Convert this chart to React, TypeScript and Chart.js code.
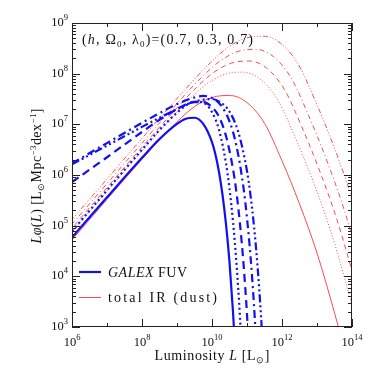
import React, { useEffect, useRef } from 'react';
import { Chart, registerables } from 'chart.js';
Chart.register(...registerables);

// Axis ticks (log10 exponents)
const xMajorExps = [6, 8, 10, 12, 14];
const xMinorExps = [7, 9, 11, 13];
const yMajorExps = [3, 4, 5, 6, 7, 8, 9];

// GALEX FUV luminosity functions (log10 L, log10 L phi(L))
const fuvZ00X = [6, 7, 8, 8.5, 9, 9.25, 9.5, 9.75, 10, 10.1, 10.2, 10.3, 10.4, 10.5, 10.6, 10.7];
const fuvZ00Y = [4.77, 5.56, 6.34, 6.71, 7.01, 7.11, 7.13, 7.01, 6.65, 6.40, 6.06, 5.61, 5.03, 4.28, 3.30, 2.06];
const fuvZ03X = [6, 7, 8, 8.5, 9, 9.25, 9.5, 9.75, 10, 10.2, 10.4, 10.5, 10.6, 10.7, 10.8, 10.9];
const fuvZ03Y = [4.89, 5.70, 6.50, 6.89, 7.23, 7.37, 7.45, 7.43, 7.24, 6.89, 6.23, 5.73, 5.08, 4.25, 3.18, 1.81];
const fuvZ05X = [6, 7, 8, 8.5, 9, 9.25, 9.5, 9.75, 10, 10.2, 10.4, 10.6, 10.7, 10.8, 10.9, 11.0, 11.1];
const fuvZ05Y = [5.86, 6.35, 6.85, 7.09, 7.30, 7.39, 7.44, 7.44, 7.34, 7.15, 6.77, 6.12, 5.65, 5.03, 4.25, 3.25, 1.98];
const fuvZ07X = [6, 7, 8, 8.5, 9, 9.5, 9.75, 10, 10.25, 10.5, 10.7, 10.9, 11.0, 11.1, 11.2, 11.3];
const fuvZ07Y = [6.23, 6.63, 7.03, 7.22, 7.40, 7.53, 7.56, 7.52, 7.38, 7.06, 6.57, 5.75, 5.15, 4.40, 3.43, 2.21];
const fuvZ10X = [6, 7, 8, 8.5, 9, 9.5, 10, 10.25, 10.5, 10.75, 11.0, 11.1, 11.2, 11.3, 11.4, 11.5];
const fuvZ10Y = [6.21, 6.58, 6.95, 7.13, 7.30, 7.45, 7.50, 7.43, 7.25, 6.85, 6.08, 5.60, 4.99, 4.21, 3.22, 1.97];

// Total IR (dust) luminosity functions
const irZ00X = [5, 6, 7, 8, 9, 9.5, 10, 10.5, 11, 11.5, 12, 12.5, 13, 13.5, 14];
const irZ00Y = [3.92, 4.72, 5.52, 6.31, 7.05, 7.35, 7.53, 7.57, 7.43, 7.02, 6.28, 5.43, 4.46, 3.28, 2.0];
const irZ03X = [5.38, 6.38, 7.38, 8.38, 9.38, 9.88, 10.38, 10.88, 11.38, 11.88, 12.38, 12.88, 13.38, 13.88, 14.38];
const irZ03Y = [4.38, 5.18, 5.98, 6.77, 7.51, 7.81, 7.99, 8.03, 7.89, 7.48, 6.74, 5.89, 4.92, 3.74, 2.46];
const irZ05X = [5.56, 6.56, 7.56, 8.56, 9.56, 10.06, 10.56, 11.06, 11.56, 12.06, 12.56, 13.06, 13.56, 14.06, 14.56];
const irZ05Y = [4.60, 5.40, 6.20, 6.99, 7.73, 8.03, 8.21, 8.25, 8.11, 7.70, 6.96, 6.11, 5.14, 3.96, 2.68];
const irZ07X = [5.75, 6.75, 7.75, 8.75, 9.75, 10.25, 10.75, 11.25, 11.75, 12.25, 12.75, 13.25, 13.75, 14.25, 14.75];
const irZ07Y = [4.83, 5.63, 6.43, 7.22, 7.96, 8.26, 8.44, 8.48, 8.34, 7.93, 7.19, 6.34, 5.37, 4.19, 2.91];
const irZ10X = [5.96, 6.96, 7.96, 8.96, 9.96, 10.46, 10.96, 11.46, 11.96, 12.46, 12.96, 13.46, 13.96, 14.46, 14.96];
const irZ10Y = [5.09, 5.89, 6.69, 7.48, 8.22, 8.52, 8.70, 8.74, 8.60, 8.19, 7.45, 6.60, 5.63, 4.45, 3.17];

const BLUE = '#1010f0';
const RED = '#ff4a4a';
const FAMILY = '"Liberation Serif", "Times New Roman", serif';

const pts = (xs: number[], ys: number[]) => xs.map((l, i) => ({ x: Math.pow(10, l), y: Math.pow(10, ys[i]) }));

type Seg = { t: string; size?: number; italic?: boolean; dy?: number };

function drawRich(ctx: CanvasRenderingContext2D, segs: Seg[], x: number, y: number, align: 'left' | 'center' | 'right', base: number, width?: number) {
  const font = (s: Seg) => `${s.italic ? 'italic ' : ''}${s.size ?? base}px ${FAMILY}`;
  let natural = 0;
  let n = 0;
  for (const s of segs) {
    ctx.font = font(s);
    for (const ch of Array.from(s.t)) { natural += ctx.measureText(ch).width; n++; }
  }
  const sp = width ? (width - natural) / Math.max(1, n - 1) : 0;
  const total = natural + sp * (n - 1);
  let cx = align === 'left' ? x : align === 'center' ? x - total / 2 : x - total;
  ctx.textBaseline = 'alphabetic';
  ctx.textAlign = 'left';
  for (const s of segs) {
    ctx.font = font(s);
    for (const ch of Array.from(s.t)) {
      ctx.fillText(ch, cx, y + (s.dy ?? 0));
      cx += ctx.measureText(ch).width + sp;
    }
  }
}

const framePlugin = {
  id: 'frame',
  afterDatasetsDraw(chart: any) {
    const { ctx, chartArea: a, scales } = chart;
    const xs = scales.x;
    const ys = scales.y;
    const X = (e: number) => xs.getPixelForValue(Math.pow(10, e));
    const Y = (e: number) => ys.getPixelForValue(Math.pow(10, e));
    ctx.save();
    ctx.strokeStyle = '#222';
    ctx.lineWidth = 1;
    ctx.strokeRect(a.left + 0.5, a.top + 0.5, a.right - a.left - 1, a.bottom - a.top - 1);
    ctx.beginPath();
    const vt = (px: number, len: number) => {
      const p = Math.round(px) + 0.5;
      ctx.moveTo(p, a.bottom); ctx.lineTo(p, a.bottom - len);
      ctx.moveTo(p, a.top); ctx.lineTo(p, a.top + len);
    };
    const ht = (py: number, len: number) => {
      const p = Math.round(py) + 0.5;
      ctx.moveTo(a.left, p); ctx.lineTo(a.left + len, p);
      ctx.moveTo(a.right, p); ctx.lineTo(a.right - len, p);
    };
    xMajorExps.forEach((e) => vt(X(e), 8));
    xMinorExps.forEach((e) => vt(X(e), 4));
    yMajorExps.forEach((e) => ht(Y(e), 8));
    for (let e = yMajorExps[0]; e < yMajorExps[yMajorExps.length - 1]; e++) {
      for (let k = 2; k <= 9; k++) ht(ys.getPixelForValue(k * Math.pow(10, e)), 4);
    }
    ctx.stroke();

    ctx.fillStyle = '#111';
    // tick labels
    xMajorExps.forEach((e) => {
      drawRich(ctx, [{ t: '10' }, { t: String(e), size: 8.5, dy: -6 }], X(e), a.bottom + 19, 'center', 12.5);
    });
    yMajorExps.forEach((e) => {
      drawRich(ctx, [{ t: '10' }, { t: String(e), size: 8.5, dy: -6 }], a.left - 4, Y(e) + 3, 'right', 12.5);
    });

    // axis titles
    drawRich(ctx, [{ t: 'Luminosity ' }, { t: 'L', italic: true }, { t: ' [L' }, { t: '\u2299', size: 9, dy: 3 }, { t: ']' }], 212, 360, 'center', 14, 115);
    ctx.save();
    ctx.translate(41, 176);
    ctx.rotate(-Math.PI / 2);
    drawRich(ctx, [
      { t: 'L', italic: true }, { t: '\u03c6', italic: true }, { t: '(' }, { t: 'L', italic: true }, { t: ') [L' },
      { t: '\u2299', size: 9, dy: 3 }, { t: 'Mpc' }, { t: '\u22123', size: 9, dy: -5 }, { t: 'dex' },
      { t: '\u22121', size: 9, dy: -5 }, { t: ']' },
    ], 0, 0, 'center', 14, 135);
    ctx.restore();

    // annotation
    drawRich(ctx, [
      { t: '(' }, { t: 'h', italic: true }, { t: ', \u03a9' }, { t: '0', size: 9, dy: 3 }, { t: ', \u03bb' },
      { t: '0', size: 9, dy: 3 }, { t: ')=(0.7, 0.3, 0.7)' },
    ], 82, 44, 'left', 14, 171);

    // legend
    ctx.strokeStyle = BLUE; ctx.lineWidth = 2.2;
    ctx.beginPath(); ctx.moveTo(79, 272); ctx.lineTo(101, 272); ctx.stroke();
    ctx.strokeStyle = RED; ctx.lineWidth = 1;
    ctx.beginPath(); ctx.moveTo(79, 297.5); ctx.lineTo(101, 297.5); ctx.stroke();
    ctx.fillStyle = '#111';
    drawRich(ctx, [{ t: 'GALEX', italic: true }, { t: ' FUV' }], 108, 277, 'left', 14, 79);
    drawRich(ctx, [{ t: 'total IR (dust)' }], 108, 302, 'left', 14, 109);
    ctx.restore();
  },
};

const blueDs = (xs: number[], ys: number[], dash: number[]) => ({
  data: pts(xs, ys), borderColor: BLUE, borderWidth: 2.2, borderDash: dash, pointRadius: 0,
  cubicInterpolationMode: 'monotone' as const, fill: false,
});
const redDs = (xs: number[], ys: number[], dash: number[]) => ({
  data: pts(xs, ys), borderColor: RED, borderWidth: 1, borderDash: dash, pointRadius: 0,
  cubicInterpolationMode: 'monotone' as const, fill: false,
});

export default function App() {
  const ref = useRef<HTMLCanvasElement>(null);
  useEffect(() => {
    document.body.style.margin = '0';
    const chart = new Chart(ref.current as HTMLCanvasElement, {
      type: 'line',
      data: {
        datasets: [
          blueDs(fuvZ00X, fuvZ00Y, []),
          blueDs(fuvZ03X, fuvZ03Y, [2, 3]),
          blueDs(fuvZ05X, fuvZ05Y, [8, 5]),
          blueDs(fuvZ07X, fuvZ07Y, [8, 4, 2, 4]),
          blueDs(fuvZ10X, fuvZ10Y, [8, 3, 2, 3, 2, 3, 2, 3]),
          redDs(irZ00X, irZ00Y, []),
          redDs(irZ03X, irZ03Y, [1, 2]),
          redDs(irZ05X, irZ05Y, [5, 4]),
          redDs(irZ07X, irZ07Y, [5, 3, 1, 3]),
          redDs(irZ10X, irZ10Y, [5, 2, 1, 2, 1, 2, 1, 2]),
        ] as any,
      },
      options: {
        animation: false,
        responsive: false,
        devicePixelRatio: 1,
        layout: { padding: { left: 72, right: 22, top: 23, bottom: 47 } },
        plugins: { legend: { display: false }, tooltip: { enabled: false } },
        scales: {
          x: { type: 'logarithmic', min: 1e6, max: 1e14, display: false },
          y: { type: 'logarithmic', min: 1e3, max: 1e9, display: false },
        },
      },
      plugins: [framePlugin],
    });
    return () => chart.destroy();
  }, []);
  return <canvas ref={ref} width={374} height={374} style={{ display: 'block', width: 374, height: 374 }} />;
}
